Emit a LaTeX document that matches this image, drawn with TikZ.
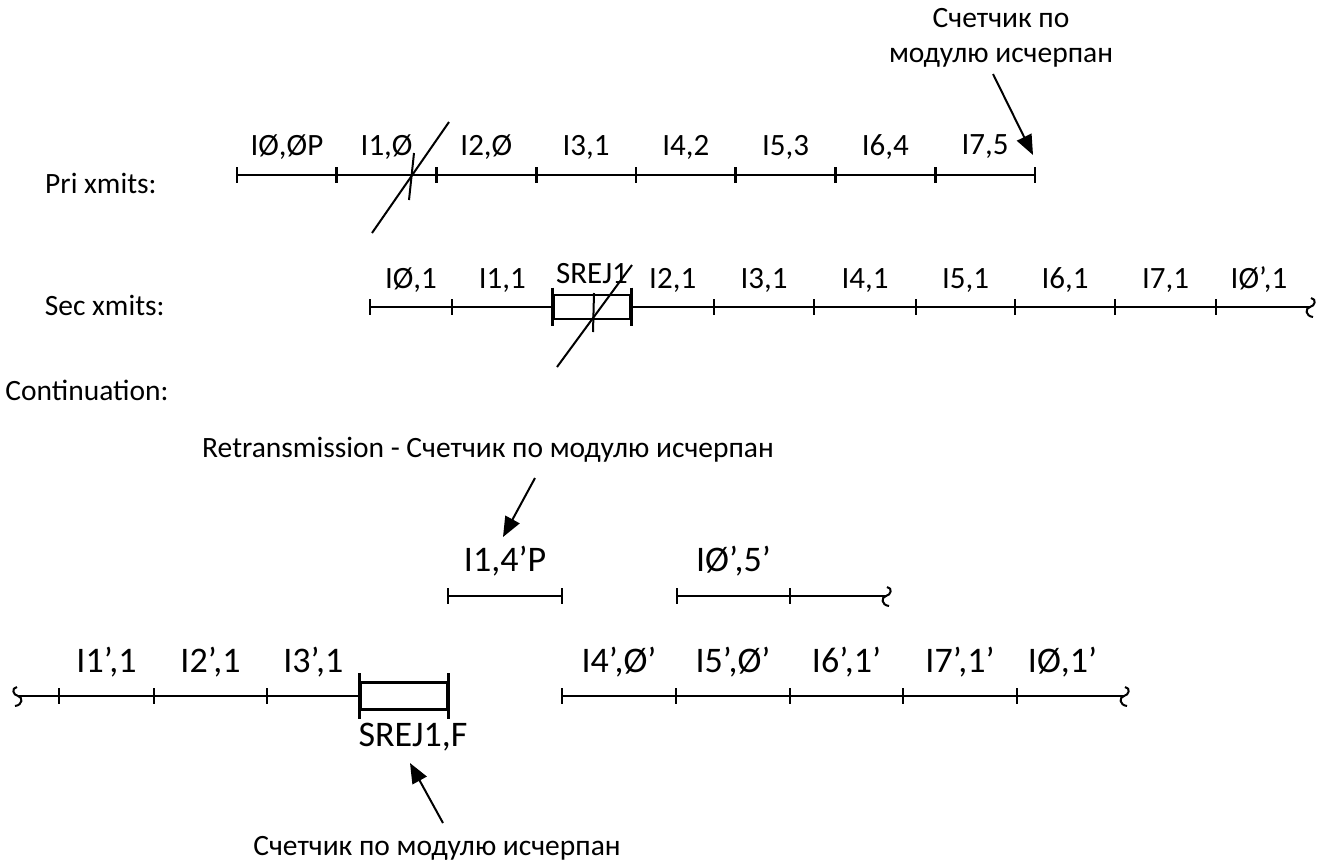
\documentclass[tikz,border=0pt]{standalone}
\usepackage{fontspec}
\setmainfont{Carlito}
\usetikzlibrary{positioning}
\usetikzlibrary{calc}
\usetikzlibrary{arrows.meta}

\begin{document}
\begin{tikzpicture}[x=0.5pt,y=-0.5pt,
        seg/.style={line width=1.4pt},
        cut/.style={line width=1pt},
        ptr/.style={line width=1pt,-{Triangle[length=10pt,width=8pt]}},
        frm/.style={inner sep=0pt,font=\fontsize{15.5}{18}\selectfont},
        bigfrm/.style={inner sep=0pt,font=\fontsize{18}{21}\selectfont},
        txt/.style={inner sep=0pt,font=\fontsize{14.75}{17.5}\selectfont},
        srej/.style={draw,line width=1.4pt,inner sep=0pt,minimum height=12pt},
        pics/wave/.style={code={\draw[line width=1pt] (1,-9) .. controls (7,-8) and (5,-1) .. (0,0) .. controls (-5,1) and (-5,9) .. (3,10);}}]
    \useasboundingbox (0,0) rectangle (1333,864);

    % row titles
    \node[txt,anchor=east] (pri) at (157,183) {Pri xmits:};
    \node[txt,anchor=east] (sec) at (165,305) {Sec xmits:};
    \node[txt,anchor=west] (cont) at (5,390) {Continuation:};

    % primary
    \foreach \i in {0,...,8}
        \coordinate (p\i) at ({237+99.75*\i},175);
    \draw[seg] (p0) -- (p8);
    \foreach \i in {0,...,8}
        \draw[seg] ([yshift=4pt]p\i) -- ([yshift=-4pt]p\i);
    \foreach \t [count=\j] in {{IØ,ØP},{I1,Ø},{I2,Ø},{I3,1},{I4,2},{I5,3},{I6,4},{I7,5}} {
        \pgfmathtruncatemacro\i{\j-1}
        \node[frm] (pl\i) at ($(p\i)!0.5!(p\j)+(0,-28)$) {\t};
    }
    \draw[cut] (372,233) -- (449,122);
    \draw[cut] (414,153) -- (409,200);

    \node[txt,align=center] (cnt) at (1001,38) {Счетчик по\\модулю исчерпан};
    \coordinate (cnttail) at (993,74);
    \coordinate (cnttip) at (1033,155);
    \draw[ptr] (cnttail) -- (cnttip);

    % secondary
    \coordinate (s0) at (370,307);
    \coordinate (s1) at (452,307);
    \node[srej,minimum width=38pt] (b1) at (592,307) {};
    \coordinate (s2) at (714,307);
    \coordinate (s3) at (814,307);
    \coordinate (s4) at (916,307);
    \coordinate (s5) at (1015,307);
    \coordinate (s6) at (1115,307);
    \coordinate (s7) at (1216,307);
    \coordinate (send) at (1310,307);
    \draw[seg] (s0) -- (b1.west);
    \draw[seg] (b1.east) -- (send);
    \foreach \c in {s0,s1,s2,s3,s4,s5,s6,s7}
        \draw[seg] ([yshift=4pt]\c) -- ([yshift=-4pt]\c);
    \draw[seg] ([yshift=3pt]b1.north west) -- ([yshift=-3pt]b1.south west);
    \draw[seg] ([yshift=3pt]b1.north east) -- ([yshift=-3pt]b1.south east);
    \pic at (send) {wave};
    \node[frm] (sl0) at ($(s0)!0.5!(s1)+(0,-27)$) {IØ,1};
    \node[frm] (sl1) at ($(s1)!0.5!(b1.west)+(0,-27)$) {I1,1};
    \node[frm] (sl2) at ($(b1)+(0,-33)$) {SREJ1};
    \node[frm] (sl3) at ($(b1.east)!0.5!(s2)+(0,-27)$) {I2,1};
    \node[frm] (sl4) at ($(s2)!0.5!(s3)+(0,-27)$) {I3,1};
    \node[frm] (sl5) at ($(s3)!0.5!(s4)+(0,-27)$) {I4,1};
    \node[frm] (sl6) at ($(s4)!0.5!(s5)+(0,-27)$) {I5,1};
    \node[frm] (sl7) at ($(s5)!0.5!(s6)+(0,-27)$) {I6,1};
    \node[frm] (sl8) at ($(s6)!0.5!(s7)+(0,-27)$) {I7,1};
    \node[frm] (sl9) at ($(s7)!0.5!(send)+(-4,-27)$) {IØ’,1};
    \draw[cut] (557,367) -- (632,265);
    \draw[cut] (594,293) -- (593,332);

    % continuation, retransmitted frames
    \node[txt] (retr) at (488,450) {Retransmission - Счетчик по модулю исчерпан};
    \coordinate (retail) at (535,478);
    \coordinate (retip) at (503,537);
    \draw[ptr] (retail) -- (retip);

    \coordinate (u0) at (448,596);
    \coordinate (u1) at (562,596);
    \draw[seg] (u0) -- (u1);
    \foreach \c in {u0,u1}
        \draw[seg] ([yshift=4pt]\c) -- ([yshift=-4pt]\c);
    \node[bigfrm] (ul) at ($(u0)!0.5!(u1)+(0,-35)$) {I1,4’P};

    \coordinate (v0) at (677,596);
    \coordinate (v1) at (790,596);
    \coordinate (vend) at (886,596);
    \draw[seg] (v0) -- (vend);
    \foreach \c in {v0,v1}
        \draw[seg] ([yshift=4pt]\c) -- ([yshift=-4pt]\c);
    \pic at (vend) {wave};
    \node[bigfrm] (vl) at ($(v0)!0.5!(v1)+(0,-35)$) {IØ’,5’};

    % continuation, left part
    \coordinate (qend) at (18,696);
    \coordinate (q1) at (59,696);
    \coordinate (q2) at (154,696);
    \coordinate (q3) at (267,696);
    \node[srej,minimum width=43pt,minimum height=13.5pt] (b2) at (404,696) {};
    \draw[seg] (qend) -- (b2.west);
    \foreach \c in {q1,q2,q3}
        \draw[seg] ([yshift=4pt]\c) -- ([yshift=-4pt]\c);
    \draw[seg] ([yshift=4pt]b2.north west) -- ([yshift=-4pt]b2.south west);
    \draw[seg] ([yshift=4pt]b2.north east) -- ([yshift=-4pt]b2.south east);
    \pic[xscale=-1] at (qend) {wave};
    \node[bigfrm] (ql1) at ($(q1)!0.5!(q2)+(0,-34)$) {I1’,1};
    \node[bigfrm] (ql2) at ($(q2)!0.5!(q3)+(0,-34)$) {I2’,1};
    \node[bigfrm] (ql3) at ($(q3)!0.5!(b2.west)+(0,-34)$) {I3’,1};
    \node[bigfrm] (ql4) at ($(b2)+(9,41)$) {SREJ1,F};

    \node[txt] (bot) at (437,848) {Счетчик по модулю исчерпан};
    \coordinate (botail) at (443,823);
    \coordinate (botip) at (410,763);
    \draw[ptr] (botail) -- (botip);

    % continuation, right part
    \coordinate (r0) at (562,696);
    \coordinate (r1) at (676,696);
    \coordinate (r2) at (790,696);
    \coordinate (r3) at (903,696);
    \coordinate (r4) at (1017,696);
    \coordinate (rend) at (1124,696);
    \draw[seg] (r0) -- (rend);
    \foreach \c in {r0,r1,r2,r3,r4}
        \draw[seg] ([yshift=4pt]\c) -- ([yshift=-4pt]\c);
    \pic at (rend) {wave};
    \node[bigfrm] (rl0) at ($(r0)!0.5!(r1)+(0,-34)$) {I4’,Ø’};
    \node[bigfrm] (rl1) at ($(r1)!0.5!(r2)+(0,-34)$) {I5’,Ø’};
    \node[bigfrm] (rl2) at ($(r2)!0.5!(r3)+(0,-34)$) {I6’,1’};
    \node[bigfrm] (rl3) at ($(r3)!0.5!(r4)+(0,-34)$) {I7’,1’};
    \node[bigfrm] (rl4) at ($(r4)!0.5!(rend)+(-8,-34)$) {IØ,1’};
\end{tikzpicture}
\end{document}
